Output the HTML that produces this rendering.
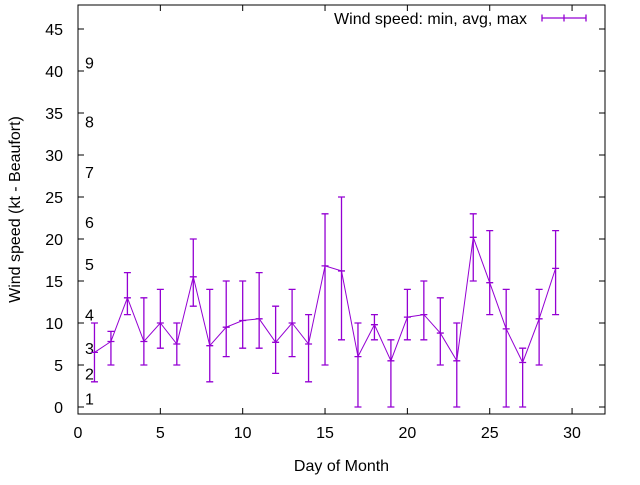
<!DOCTYPE html>
<html><head><meta charset="utf-8"><style>
body{margin:0;background:#fff}
text{font-family:"Liberation Sans",sans-serif;font-size:16px;fill:#000}
</style></head><body>
<svg id="chart" width="640" height="480" xmlns="http://www.w3.org/2000/svg">
<rect x="0" y="0" width="640" height="480" fill="#fff"/>
<g id="axes"></g>
<g id="series"></g>
</svg>
<script>
const days=[1,2,3,4,5,6,7,8,9,10,11,12,13,14,15,16,17,18,19,20,21,22,23,24,25,26,27,28,29];
const avgs=[6.5,7.8,13,7.8,10,7.5,15.5,7.3,9.5,10.3,10.5,7.7,10,7.5,16.8,16.2,6,9.8,5.5,10.7,11,8.8,5.5,20.2,14.8,9.3,5.3,10.5,16.5];
const mins=[3,5,11,5,7,5,12,3,6,7,7,4,6,3,5,8,0,8,0,8,8,5,0,15,11,0,0,5,11];
const maxs=[10,9,16,13,14,10,20,14,15,15,16,12,14,11,23,25,10,11,8,14,15,13,10,23,21,14,7,14,21];
const xTicks=[0,5,10,15,20,25,30];
const yTicks=[0,5,10,15,20,25,30,35,40,45];
const beaufortLabels=["1","2","3","4","5","6","7","8","9"];
const beaufortKt=[1,4,7,11,17,22,28,34,41];
const L=78,R=605,T=5,B=414;
const X=v=>L+v*(R-L)/32;
const Y=v=>407-v*8.4;
const NS="http://www.w3.org/2000/svg";
function mk(parent,tag,attrs){const e=document.createElementNS(NS,tag);for(const k in attrs)e.setAttribute(k,attrs[k]);parent.appendChild(e);return e;}
const ax=document.getElementById('axes'), se=document.getElementById('series');
const frame=mk(ax,'rect',{x:L,y:T,width:R-L,height:B-T,fill:'none',stroke:'#000','stroke-width':1});


xTicks.forEach(v=>{
  const t=mk(ax,'path',{d:`M${X(v)},${B}v-6M${X(v)},${T}v6`,stroke:'#000'});
  
  
  const l=mk(ax,'text',{x:X(v),y:B+24,'text-anchor':'middle'});l.textContent=v;
  
  
});
yTicks.forEach(v=>{
  const t=mk(ax,'path',{d:`M${L},${Y(v)}h6M${R},${Y(v)}h-6`,stroke:'#000'});
  
  
  const l=mk(ax,'text',{x:L-15,y:Y(v)+6,'text-anchor':'end'});l.textContent=v;
  
  
});
beaufortLabels.forEach((s,i)=>{
  const l=mk(ax,'text',{x:85,y:Y(beaufortKt[i])+6});l.textContent=s;
  
  
});
const xt=mk(ax,'text',{x:(L+R)/2,y:471,'text-anchor':'middle'});xt.textContent='Day of Month';


const yt=mk(ax,'text',{x:0,y:0,'text-anchor':'middle',transform:`translate(20,${(T+B)/2}) rotate(-90)`});yt.textContent='Wind speed (kt - Beaufort)';


const C='#9400d3';
const line=mk(se,'polyline',{points:days.map((d,i)=>X(d)+','+Y(avgs[i])).join(' '),fill:'none',stroke:C,'stroke-width':1});


days.forEach((d,i)=>{
  const x=X(d);
  const e=mk(se,'path',{d:`M${x},${Y(mins[i])}V${Y(maxs[i])}M${x-3.5},${Y(mins[i])}h7M${x-3.5},${Y(maxs[i])}h7M${x-3.5},${Y(avgs[i])}h7`,stroke:C,'stroke-width':1.3,fill:'none'});
  
  
});
const lt=mk(ax,'text',{x:527,y:24,'text-anchor':'end'});lt.textContent='Wind speed: min, avg, max';


const ls=mk(ax,'path',{d:'M542,18h44M542,14.5v7M586,14.5v7M564,14.5v7',stroke:C,'stroke-width':1.3});


</script>
</body></html>
